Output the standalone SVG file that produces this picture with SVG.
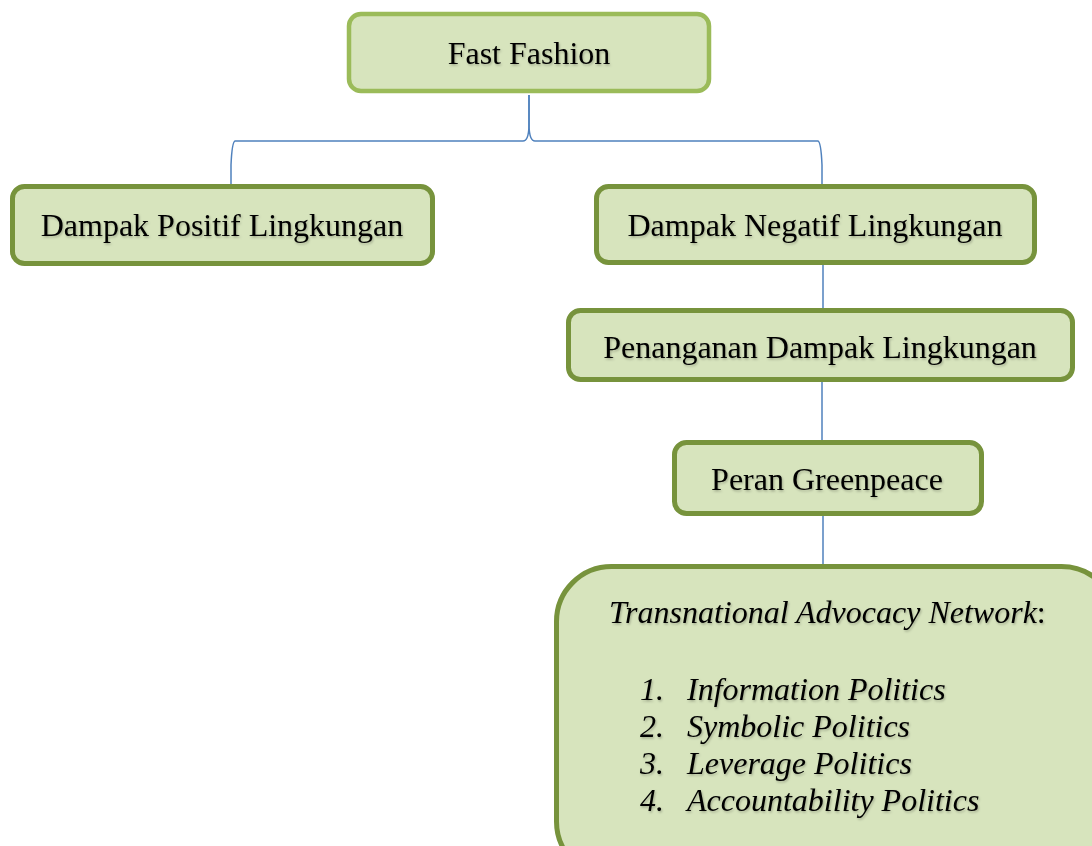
<svg xmlns="http://www.w3.org/2000/svg" width="1092" height="846" viewBox="0 0 1092 846">
<defs>
<filter id="ts" x="-5%" y="-20%" width="110%" height="140%">
<feDropShadow dx="1" dy="1.5" stdDeviation="1" flood-color="#000" flood-opacity="0.25"/>
</filter>
</defs>
<style>
.box{fill:#D7E4BD;stroke:#77933C;stroke-width:5}
.top{fill:#D7E4BD;stroke:#9BBB59;stroke-width:4.5}
.t{font-family:"Liberation Serif","Times New Roman",serif;font-size:32px;fill:#000;filter:url(#ts)}
.c{text-anchor:middle}
.i{font-style:italic}
.ln{fill:none;stroke:#4F81BD;stroke-width:1.5}
</style>
<rect width="1092" height="846" fill="#fff"/>
<g id="connectors">
<path class="ln" d="M529,95 L529,126 Q528.5,141 523,141 L235,141 Q232,142 231,165 L231,185"/>
<path class="ln" d="M529,95 L529,126 Q529.5,141 535,141 L818,141 Q821,142 822,165 L822,185"/>
<line class="ln" x1="823" y1="265" x2="823" y2="309"/>
<line class="ln" x1="822" y1="381" x2="822" y2="441"/>
<line class="ln" x1="823" y1="515" x2="823" y2="565"/>
</g>
<g id="fast-fashion">
<rect class="top" x="349" y="14" width="360" height="77" rx="12"/>
<text class="t c" x="529" y="64">Fast Fashion</text>
</g>
<g id="dampak-positif">
<rect class="box" x="12.5" y="186.5" width="420" height="77" rx="12"/>
<text class="t c" x="222" y="236">Dampak Positif Lingkungan</text>
</g>
<g id="dampak-negatif">
<rect class="box" x="596.5" y="186.5" width="438" height="76" rx="12"/>
<text class="t c" x="815" y="236">Dampak Negatif Lingkungan</text>
</g>
<g id="penanganan">
<rect class="box" x="568.5" y="310.5" width="504" height="69" rx="12"/>
<text class="t c" x="820" y="358">Penanganan Dampak Lingkungan</text>
</g>
<g id="peran-greenpeace">
<rect class="box" x="674.5" y="442.5" width="307" height="71" rx="12"/>
<text class="t c" x="827" y="490">Peran Greenpeace</text>
</g>
<g id="tan">
<rect class="box" x="556.5" y="566.5" width="560" height="310" rx="55"/>
<text class="t" x="609" y="623"><tspan class="i">Transnational Advocacy Network</tspan>:</text>
<text class="t i" x="640" y="700">1.</text><text class="t i" x="687" y="700">Information Politics</text>
<text class="t i" x="640" y="737">2.</text><text class="t i" x="687" y="737">Symbolic Politics</text>
<text class="t i" x="640" y="774">3.</text><text class="t i" x="687" y="774">Leverage Politics</text>
<text class="t i" x="640" y="811">4.</text><text class="t i" x="687" y="811">Accountability Politics</text>
</g>
</svg>
